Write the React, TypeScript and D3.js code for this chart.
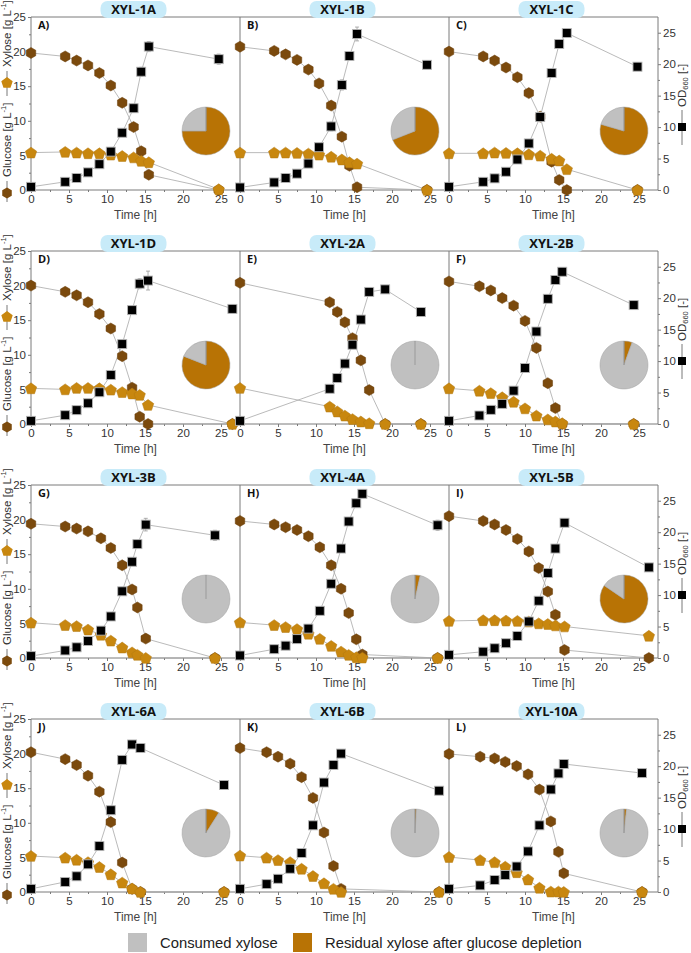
import React, { useRef, useEffect } from "react";
import * as d3 from "d3";

// strain per panel (row-major, 3 columns)
const strains = ["XYL-1A", "XYL-1B", "XYL-1C", "XYL-1D", "XYL-2A", "XYL-2B", "XYL-3B", "XYL-4A", "XYL-5B", "XYL-6A", "XYL-6B", "XYL-10A"];
const letters = ["A)", "B)", "C)", "D)", "E)", "F)", "G)", "H)", "I)", "J)", "K)", "L)"];

// sampling times [h]
const times = [
  [0, 4.5, 6, 7.5, 9, 10.5, 12, 13.5, 14.5, 15.5, 24.7],
  [0, 4.5, 6, 7.5, 9, 10.4, 12, 13.4, 14.4, 15.4, 24.6],
  [0, 4.5, 6, 7.5, 9, 10.5, 12, 13.5, 14.5, 15.5, 24.8],
  [0, 4.5, 6, 7.5, 9, 10.5, 12, 13.3, 14.3, 15.4, 26.5],
  [0, 11.8, 12.8, 13.8, 14.8, 15.9, 17, 19.1, 23.8],
  [0, 4, 5.5, 7, 8.5, 10, 11.5, 13, 14, 14.9, 24.3],
  [0, 4.5, 6, 7.5, 9.2, 10.5, 12, 13.3, 14, 15.1, 24.2],
  [0, 4.5, 6, 7.5, 9, 10.5, 12, 13.3, 14.3, 15.3, 16.1, 26],
  [0, 4.5, 6, 7.5, 9, 10.5, 11.8, 13, 14, 15.2, 26.3],
  [0, 4.5, 6, 7.5, 9, 10.5, 12, 13.3, 14.4, 25.4],
  [0, 3.5, 5, 6.6, 8.1, 9.6, 11.05, 12.3, 13.3, 26.2],
  [0, 4.1, 6, 7.4, 8.9, 10.4, 11.9, 13.4, 14.4, 15.1, 25.4],
];

// glucose [g/L]
const glucose = [
  [19.8, 19.3, 18.7, 18.0, 16.9, 15.1, 12.6, 9.1, 5.6, 2.2, 0],
  [20.7, 20.1, 19.6, 18.8, 17.4, 15.4, 12.2, 7.7, 3.5, 0.4, 0],
  [20.0, 19.3, 18.7, 17.7, 16.3, 14.0, 10.6, 4.1, 1.45, 0, 0],
  [20.0, 19.1, 18.6, 17.6, 15.9, 13.8, 9.8, 5.25, 1.05, 0, 0],
  [20.4, 17.6, 16.2, 14.7, 12.4, 9.2, 4.9, 0, 0],
  [20.6, 19.9, 19.3, 18.2, 17.1, 14.9, 11.0, 5.9, 2.3, 0, 0],
  [19.4, 19.0, 18.7, 18.3, 17.3, 15.9, 13.4, 9.9, 7.3, 2.8, 0],
  [19.8, 19.3, 18.9, 18.5, 17.6, 16.0, 13.4, 10.0, 6.5, 2.7, 0.5, 0],
  [20.5, 19.8, 19.3, 18.5, 17.2, 15.4, 13.0, 9.6, 6.25, 1.15, 0],
  [20.2, 19.2, 18.35, 16.8, 14.5, 10.1, 4.25, 0.45, 0, 0],
  [20.8, 20.2, 19.55, 18.55, 16.6, 13.6, 8.6, 3.75, 0.45, 0],
  [19.95, 19.55, 19.3, 18.8, 18.2, 17.0, 14.8, 10.2, 5.8, 2.7, 0],
];

// xylose [g/L]
const xylose = [
  [5.4, 5.5, 5.4, 5.3, 5.3, 5.1, 4.9, 4.7, 4.2, 4.0, 0.1],
  [5.4, 5.4, 5.4, 5.35, 5.25, 5.1, 4.8, 4.4, 4.0, 3.8, 0],
  [5.3, 5.3, 5.4, 5.35, 5.3, 5.15, 4.95, 4.5, 4.25, 3.0, 0],
  [5.15, 5.0, 5.2, 5.2, 5.15, 4.95, 4.6, 4.4, 4.2, 2.75, 0],
  [5.2, 2.5, 1.8, 1.2, 0.7, 0.35, 0.1, 0, 0],
  [5.15, 4.8, 4.45, 3.85, 3.2, 2.25, 1.2, 0.65, 0.35, 0.1, 0],
  [5.1, 4.75, 4.6, 4.1, 3.35, 2.5, 1.5, 0.8, 0.45, 0, 0],
  [5.14, 4.75, 4.46, 4.17, 3.5, 2.76, 1.74, 0.92, 0.44, 0.1, 0.05, 0],
  [5.35, 5.45, 5.45, 5.4, 5.35, 5.25, 5.0, 4.9, 4.7, 4.55, 3.2],
  [5.2, 4.95, 4.65, 4.3, 3.6, 2.55, 1.35, 0.5, 0, 0],
  [5.25, 4.95, 4.6, 4.3, 3.35, 2.3, 1.25, 0.45, 0, 0],
  [5.05, 4.6, 4.3, 3.65, 2.85, 1.8, 0.6, 0.05, 0.05, 0, 0],
];

// OD660 [-]
const od = [
  [0.5, 1.3, 1.9, 2.8, 4.1, 6.1, 9.1, 13.0, 18.8, 22.8, 20.8],
  [0.4, 1.2, 1.9, 2.6, 4.2, 6.8, 10.1, 16.7, 21.3, 24.8, 19.9],
  [0.5, 1.3, 1.85, 2.9, 4.85, 7.4, 11.6, 18.6, 23.2, 24.95, 19.6],
  [0.5, 1.4, 2.2, 3.3, 5.05, 7.8, 12.7, 18.1, 22.3, 22.8, 18.3],
  [0.5, 5.6, 7.3, 9.6, 12.6, 16.6, 21.0, 21.4, 17.8],
  [0.5, 1.35, 2.25, 3.2, 5.3, 8.9, 14.7, 19.9, 22.9, 24.2, 18.9],
  [0.3, 1.2, 1.7, 2.7, 4.35, 6.6, 10.6, 15.3, 18.1, 21.2, 19.5],
  [0.4, 1.4, 1.96, 3.0, 4.67, 7.5, 11.8, 17.4, 21.7, 24.6, 26.1, 21.1],
  [0.5, 1.0, 1.55, 2.35, 3.5, 5.8, 9.1, 13.5, 17.4, 21.5, 14.4],
  [0.5, 1.6, 2.5, 4.4, 7.3, 13.0, 21.0, 23.45, 22.9, 17.0],
  [0.5, 1.25, 2.1, 3.7, 6.2, 10.6, 17.4, 20.2, 22.0, 16.1],
  [0.5, 1.05, 1.9, 2.7, 4.05, 6.45, 10.6, 16.3, 18.85, 20.35, 18.9],
];

// OD660 standard deviation
const odErr = [
  [0, 0, 0, 0, 0, 0, 0.4, 0.6, 0.7, 0.8, 0.8],
  [0, 0, 0, 0, 0, 0, 0.7, 0.8, 0.6, 1.1, 0.6],
  [0, 0, 0, 0, 0, 0, 0.4, 0, 0.4, 0.6, 0.6],
  [0, 0, 0, 0, 0, 0, 0.4, 0.5, 0.8, 1.5, 0.4],
  [0, 0, 0, 0, 0, 0, 0, 0, 0],
  [0, 0, 0, 0, 0, 0, 0, 0, 0, 0.6, 0],
  [0, 0, 0, 0, 0, 0, 0, 0, 0, 1.0, 0.8],
  [0, 0, 0, 0, 0, 0, 0, 0.6, 0.6, 0, 0, 0.8],
  [0, 0, 0, 0, 0, 0, 0, 0, 0, 0, 0],
  [0, 0, 0, 0, 0, 0, 0, 0.4, 0, 0],
  [0, 0, 0, 0, 0, 0, 0.5, 0, 0, 0],
  [0, 0, 0, 0, 0, 0, 0, 0, 0, 0, 0],
];

// share of xylose left when glucose was depleted
const residualShare = [0.75, 0.69, 0.795, 0.81, 0, 0.055, 0, 0.035, 0.845, 0.09, 0.01, 0.017];

const xTicks = [0, 5, 10, 15, 20, 25];
const xMinorTicks = [2.5, 7.5, 12.5, 17.5, 22.5];
const yTicks = [0, 5, 10, 15, 20, 25];
const yMinorTicks = [2.5, 7.5, 12.5, 17.5, 22.5];

const legendItems = [
  { label: "Consumed xylose", color: "#c0c0c0" },
  { label: "Residual xylose after glucose depletion", color: "#b87305" },
];

const GLUCOSE_COLOR = "#7b4a0d";
const XYLOSE_COLOR = "#c8870f";
const LINE_COLOR = "#a8a8a8";
const AXIS_COLOR = "#7a7a7a";
const TEXT_COLOR = "#333333";
const TICK_FONT = "'Liberation Sans', Arial, sans-serif";

// regular polygon, first vertex pointing up
const polygon = (n: number, r: number) =>
  "M" +
  d3
    .range(n)
    .map((i) => {
      const a = -Math.PI / 2 + (i * 2 * Math.PI) / n;
      return `${(r * Math.cos(a)).toFixed(2)},${(r * Math.sin(a)).toFixed(2)}`;
    })
    .join("L") +
  "Z";

const App = () => {
  const chartRef = useRef<SVGSVGElement | null>(null);

  useEffect(() => {
    if (!chartRef.current) return;
    const svg = d3.select(chartRef.current);
    svg.selectAll("*").remove();

    const left0 = 31;
    const top0 = 17;
    const pw = 209;
    const ph = 173;
    const rowStep = 234;

    const x = d3.scaleLinear().domain([0, 27.5]).range([0, pw]);
    const y = d3.scaleLinear().domain([0, 25]).range([ph, 0]);
    const yR = d3.scaleLinear().domain([0, 27.5]).range([ph, 0]);

    const hexPath = polygon(6, 5.5);
    const pentPath = polygon(5, 6);

    const styleAxis = (g: any) => {
      g.attr("font-family", TICK_FONT).attr("font-size", 11.5);
      g.select(".domain").remove();
      g.selectAll(".tick line").attr("stroke", AXIS_COLOR);
      g.selectAll(".tick text").attr("fill", TEXT_COLOR);
    };

    strains.forEach((name, i) => {
      const col = i % 3;
      const row = Math.floor(i / 3);
      const px = left0 + col * pw;
      const py = top0 + row * rowStep;
      const g = svg.append("g").attr("transform", `translate(${px},${py})`);

      // pie of xylose fate
      const pie = d3.pie<number>().sort(null)([residualShare[i], 1 - residualShare[i]]);
      const arc = d3.arc<any>().innerRadius(0).outerRadius(24);
      const pg = g.append("g").attr("transform", "translate(175,114)");
      pg.selectAll("path")
        .data(pie)
        .enter()
        .append("path")
        .attr("d", arc)
        .attr("fill", (_, k) => (k === 0 ? legendItems[1].color : legendItems[0].color))
        .attr("stroke", "#a0a0a0")
        .attr("stroke-width", 0.5);
      pg.append("line")
        .attr("x1", 0)
        .attr("y1", 0)
        .attr("x2", 0)
        .attr("y2", -24)
        .attr("stroke", "#8a8a8a")
        .attr("stroke-width", 0.7);

      // frame
      g.append("line").attr("x1", 0).attr("x2", pw).attr("y1", 0).attr("y2", 0).attr("stroke", AXIS_COLOR);
      g.append("line").attr("x1", 0).attr("x2", 0).attr("y1", 0).attr("y2", ph).attr("stroke", AXIS_COLOR);
      g.append("line").attr("x1", 0).attr("x2", pw).attr("y1", ph).attr("y2", ph).attr("stroke", AXIS_COLOR);

      // x axis
      g.append("g")
        .attr("transform", `translate(0,${ph})`)
        .call(d3.axisBottom(x).tickValues(xTicks).tickSize(3).tickPadding(2))
        .call(styleAxis);
      g.append("g")
        .attr("transform", `translate(0,${ph})`)
        .call(d3.axisBottom(x).tickValues(xMinorTicks).tickSize(2).tickFormat(() => ""))
        .call(styleAxis);

      g.append("text")
        .attr("x", pw / 2)
        .attr("y", ph + 29)
        .attr("text-anchor", "middle")
        .attr("font-family", TICK_FONT)
        .attr("font-size", 12)
        .attr("fill", "#444")
        .text("Time [h]");

      if (col === 0) {
        g.append("g").call(d3.axisLeft(y).tickValues(yTicks).tickSize(3).tickPadding(2)).call(styleAxis);
        g.append("g").call(d3.axisLeft(y).tickValues(yMinorTicks).tickSize(2).tickFormat(() => "")).call(styleAxis);
      }
      if (col === 2) {
        g.append("line").attr("x1", pw).attr("x2", pw).attr("y1", 0).attr("y2", ph).attr("stroke", AXIS_COLOR);
        const ra = g.append("g").attr("transform", `translate(${pw},0)`);
        ra.append("g").call(d3.axisRight(yR).tickValues(yTicks).tickSize(3).tickPadding(2)).call(styleAxis);
        ra.append("g").call(d3.axisRight(yR).tickValues(yMinorTicks).tickSize(2).tickFormat(() => "")).call(styleAxis);
      }

      // connecting lines
      const t = times[i];
      const lineL = d3
        .line<number>()
        .x((_, k) => x(t[k]))
        .y((d) => y(d));
      const lineR = d3
        .line<number>()
        .x((_, k) => x(t[k]))
        .y((d) => yR(d));
      [glucose[i], xylose[i]].forEach((s) => {
        g.append("path").attr("d", lineL(s)).attr("fill", "none").attr("stroke", LINE_COLOR).attr("stroke-width", 0.8);
      });
      g.append("path").attr("d", lineR(od[i])).attr("fill", "none").attr("stroke", LINE_COLOR).attr("stroke-width", 0.8);

      // error bars on OD
      od[i].forEach((v, k) => {
        const e = odErr[i][k];
        if (!e) return;
        const cx = x(t[k]);
        g.append("line").attr("x1", cx).attr("x2", cx).attr("y1", yR(v - e)).attr("y2", yR(v + e)).attr("stroke", "#999").attr("stroke-width", 0.8);
        [v - e, v + e].forEach((w) =>
          g.append("line").attr("x1", cx - 2).attr("x2", cx + 2).attr("y1", yR(w)).attr("y2", yR(w)).attr("stroke", "#999").attr("stroke-width", 0.8)
        );
      });

      // markers
      g.selectAll(".glc")
        .data(glucose[i])
        .enter()
        .append("path")
        .attr("class", "glc")
        .attr("d", hexPath)
        .attr("transform", (d, k) => `translate(${x(t[k])},${y(d)})`)
        .attr("fill", GLUCOSE_COLOR)
        .attr("stroke", "#6a3f0a")
        .attr("stroke-width", 0.5);
      g.selectAll(".xyl")
        .data(xylose[i])
        .enter()
        .append("path")
        .attr("class", "xyl")
        .attr("d", pentPath)
        .attr("transform", (d, k) => `translate(${x(t[k])},${y(d) + 0.5})`)
        .attr("fill", XYLOSE_COLOR)
        .attr("stroke", "#b37810")
        .attr("stroke-width", 0.5);
      g.selectAll(".od")
        .data(od[i])
        .enter()
        .append("rect")
        .attr("class", "od")
        .attr("x", (_, k) => x(t[k]) - 4.5)
        .attr("y", (d) => yR(d) - 4.5)
        .attr("width", 9)
        .attr("height", 9)
        .attr("fill", "#000")
        .attr("stroke", "#b5b5b5")
        .attr("stroke-width", 0.9);

      // title box
      const tg = g.append("g").attr("transform", `translate(${pw / 2 - 2},0)`);
      tg.append("rect").attr("x", -33).attr("y", -16).attr("width", 66).attr("height", 17).attr("rx", 7).attr("fill", "#c8ebf9");
      tg.append("text")
        .attr("y", -3.5)
        .attr("text-anchor", "middle")
        .attr("font-family", "'Open Sans', sans-serif")
        .attr("font-weight", 700)
        .attr("font-size", 13)
        .attr("fill", "#111")
        .text(name);

      g.append("text")
        .attr("x", 7)
        .attr("y", 12)
        .attr("font-family", "'Open Sans', sans-serif")
        .attr("font-weight", 700)
        .attr("font-size", 11)
        .attr("fill", "#111")
        .text(letters[i]);

      // left axis title (rotated)
      if (col === 0) {
        const lab = svg.append("g").attr("transform", `translate(${7},${py + ph + 3}) rotate(-90)`);
        lab.append("line").attr("x1", -9).attr("x2", 12).attr("stroke", "#555").attr("stroke-width", 0.8);
        lab.append("path").attr("d", hexPath).attr("transform", "rotate(90)").attr("fill", GLUCOSE_COLOR);
        const t1 = lab
          .append("text")
          .attr("x", 16)
          .attr("dominant-baseline", "central")
          .attr("font-family", TICK_FONT)
          .attr("font-size", 11.5)
          .attr("fill", TEXT_COLOR);
        t1.append("tspan").text("Glucose [g L");
        t1.append("tspan").attr("dy", -4).attr("font-size", 7.5).text("-1");
        t1.append("tspan").attr("dy", 4).text("]");
        lab.append("line").attr("x1", 97).attr("x2", 122).attr("stroke", "#555").attr("stroke-width", 0.8);
        lab.append("path").attr("d", pentPath).attr("transform", "translate(110,0) rotate(90)").attr("fill", XYLOSE_COLOR);
        const t2 = lab
          .append("text")
          .attr("x", 126)
          .attr("dominant-baseline", "central")
          .attr("font-family", TICK_FONT)
          .attr("font-size", 11.5)
          .attr("fill", TEXT_COLOR);
        t2.append("tspan").text("Xylose [g L");
        t2.append("tspan").attr("dy", -4).attr("font-size", 7.5).text("-1");
        t2.append("tspan").attr("dy", 4).text("]");
      }

      // right axis title (rotated)
      if (col === 2) {
        const lab = svg.append("g").attr("transform", `translate(${682},${py + ph}) rotate(-90)`);
        lab.append("line").attr("x1", 45).attr("x2", 80).attr("stroke", "#555").attr("stroke-width", 0.8);
        lab.append("rect").attr("x", 59).attr("y", -4).attr("width", 8).attr("height", 8).attr("fill", "#000");
        const t3 = lab
          .append("text")
          .attr("x", 83)
          .attr("dominant-baseline", "central")
          .attr("font-family", TICK_FONT)
          .attr("font-size", 11.5)
          .attr("fill", TEXT_COLOR);
        t3.append("tspan").text("OD");
        t3.append("tspan").attr("dy", 3).attr("font-size", 7.5).text("660");
        t3.append("tspan").attr("dy", -3).text(" [-]");
      }
    });

    // legend
    const legend = svg.append("g");
    const legendX = [128, 293];
    legendItems.forEach((item, k) => {
      legend.append("rect").attr("x", legendX[k]).attr("y", 933).attr("width", 19).attr("height", 19).attr("fill", item.color);
      legend
        .append("text")
        .attr("x", legendX[k] + 32)
        .attr("y", 948)
        .attr("font-family", TICK_FONT)
        .attr("font-size", 14.8)
        .attr("fill", "#222")
        .text(item.label);
    });
  }, []);

  return (
    <div style={{ position: "absolute", left: 0, top: 0 }}>
      <svg ref={chartRef} width={691} height={953} style={{ display: "block", background: "#fff" }} />
    </div>
  );
};

export default App;
